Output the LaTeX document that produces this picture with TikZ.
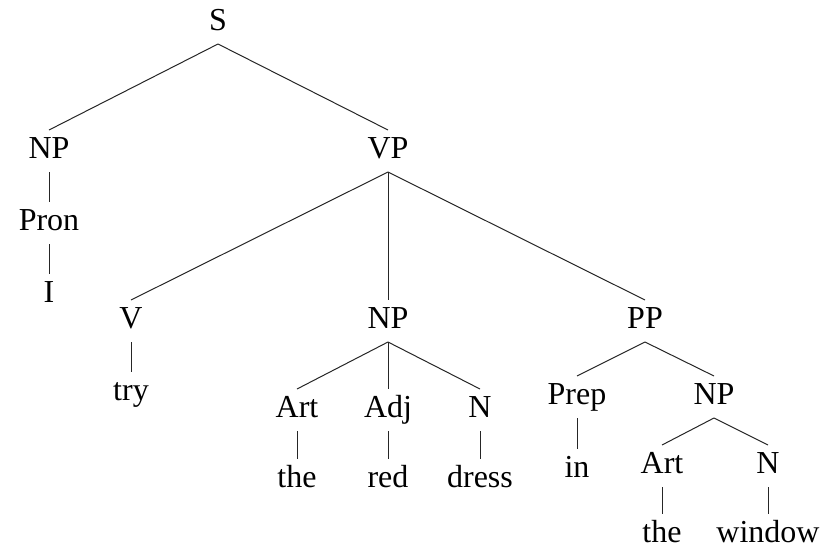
\documentclass[tikz,border=0pt]{standalone}
\usepackage{fontspec}
\setmainfont{Liberation Serif}
\begin{document}
\begin{tikzpicture}[x=1pt,y=-1pt,
  lbl/.style={inner sep=0pt,text height=22pt,text depth=0pt,anchor=center,font=\fontsize{32}{38}\selectfont},
  edge/.style={draw=black!85,line width=1pt}]
\useasboundingbox (0,0) rectangle (830,550);
\node[lbl] (S) at (218,19) {S};
\node[lbl] (NP1) at (49,147) {NP};
\node[lbl] (VP) at (388,147) {VP};
\node[lbl] (Pron) at (49,219) {Pron};
\node[lbl] (I) at (49,291) {I};
\node[lbl] (V) at (131,317) {V};
\node[lbl] (try) at (131,389) {try};
\node[lbl] (NP2) at (388,317) {NP};
\node[lbl] (PP) at (645,317) {PP};
\node[lbl] (Art1) at (297,406) {Art};
\node[lbl] (Adj) at (388,406) {Adj};
\node[lbl] (N1) at (480,406) {N};
\node[lbl] (the1) at (297,476) {the};
\node[lbl] (red) at (388,476) {red};
\node[lbl] (dress) at (480,476) {dress};
\node[lbl] (Prep) at (577,393) {Prep};
\node[lbl] (NP3) at (714,393) {NP};
\node[lbl] (in) at (577,466) {in};
\node[lbl] (Art2) at (662,462) {Art};
\node[lbl] (N2) at (768,462) {N};
\node[lbl] (the2) at (662,531) {the};
\node[lbl] (window) at (768,531) {window};
\newcommand\treeedge[2]{\draw[edge] ([yshift=-25pt]#1.center) -- ([yshift=17pt]#2.center);}
\treeedge{S}{NP1}
\treeedge{S}{VP}
\treeedge{NP1}{Pron}
\treeedge{Pron}{I}
\treeedge{VP}{V}
\treeedge{VP}{NP2}
\treeedge{VP}{PP}
\treeedge{V}{try}
\treeedge{NP2}{Art1}
\treeedge{NP2}{Adj}
\treeedge{NP2}{N1}
\treeedge{Art1}{the1}
\treeedge{Adj}{red}
\treeedge{N1}{dress}
\treeedge{PP}{Prep}
\treeedge{PP}{NP3}
\treeedge{Prep}{in}
\treeedge{NP3}{Art2}
\treeedge{NP3}{N2}
\treeedge{Art2}{the2}
\treeedge{N2}{window}
\end{tikzpicture}
\end{document}
